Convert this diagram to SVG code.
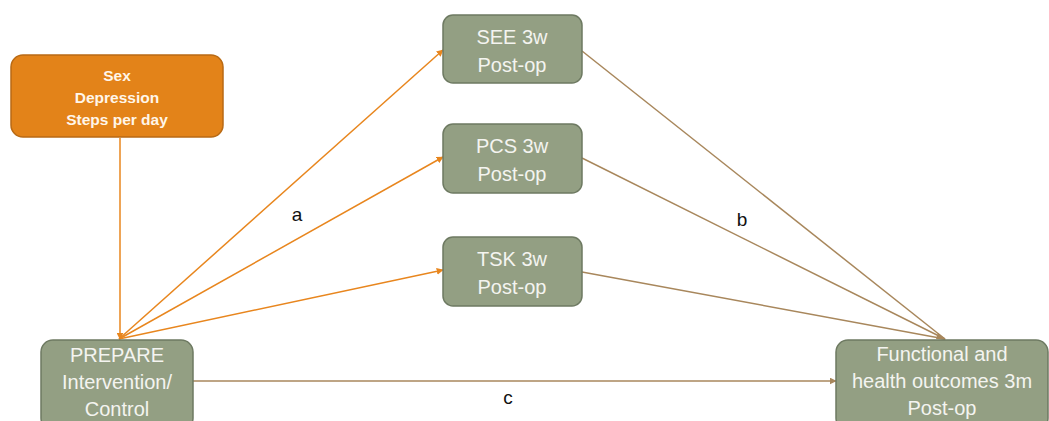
<svg xmlns="http://www.w3.org/2000/svg" width="1049" height="421" viewBox="0 0 1049 421">
<defs>
<style>
.g{fill:#939F83;stroke:#6E7A62;stroke-width:1.5}
.o{fill:#E38319;stroke:#B96A14;stroke-width:1.5}
.t{font-family:"Liberation Sans",Arial,sans-serif;font-size:20px;fill:#F4F4F0;text-anchor:middle}
.tb{font-family:"Liberation Sans",Arial,sans-serif;font-size:15.5px;font-weight:bold;fill:#FFF6EA;text-anchor:middle}
.lab{font-family:"Liberation Sans",Arial,sans-serif;font-size:19px;fill:#111;text-anchor:middle}
.ao{stroke:#E8861E;stroke-width:1.5;fill:none;marker-end:url(#mo)}
.ab{stroke:#A8875C;stroke-width:1.5;fill:none}
.abm{stroke:#A8875C;stroke-width:1.5;fill:none;marker-end:url(#mb)}
</style>
<marker id="mo" viewBox="0 0 10 10" refX="9" refY="5" markerWidth="7" markerHeight="7" markerUnits="userSpaceOnUse" orient="auto"><path d="M0,0L10,5L0,10z" fill="#E8861E"/></marker>
<marker id="mb" viewBox="0 0 10 10" refX="9" refY="5" markerWidth="7" markerHeight="7" markerUnits="userSpaceOnUse" orient="auto"><path d="M0,0L10,5L0,10z" fill="#A8875C"/></marker>
</defs>
<g id="connectors">
<line class="ao" x1="120" y1="138" x2="120" y2="339"/>
<line class="ao" x1="119" y1="339" x2="443" y2="50"/>
<line class="ao" x1="119" y1="339" x2="443" y2="157"/>
<line class="ao" x1="119" y1="339" x2="443" y2="270"/>
<line class="ab" x1="582" y1="51" x2="945" y2="339"/>
<line class="ab" x1="582" y1="158" x2="945" y2="339"/>
<line class="ab" x1="582" y1="272" x2="945" y2="339"/>
<path d="M938,333L946,340L936,339z" fill="#A8875C"/>
<line class="abm" x1="193" y1="381" x2="836" y2="381"/>
<text class="lab" x="297" y="221">a</text>
<text class="lab" x="742" y="226">b</text>
<text class="lab" x="508" y="404">c</text>
</g>
<g id="covariates">
<rect class="o" x="11" y="55" width="212" height="82" rx="12"/>
<text class="tb" x="117" y="81">Sex</text>
<text class="tb" x="117" y="103">Depression</text>
<text class="tb" x="117" y="125">Steps per day</text>
</g>
<g id="see">
<rect class="g" x="443" y="15" width="139" height="68" rx="10"/>
<text class="t" x="512" y="44">SEE 3w</text>
<text class="t" x="512" y="72">Post-op</text>
</g>
<g id="pcs">
<rect class="g" x="443" y="124" width="139" height="69" rx="10"/>
<text class="t" x="512" y="153">PCS 3w</text>
<text class="t" x="512" y="181">Post-op</text>
</g>
<g id="tsk">
<rect class="g" x="443" y="237" width="139" height="69" rx="10"/>
<text class="t" x="512" y="266">TSK 3w</text>
<text class="t" x="512" y="294">Post-op</text>
</g>
<g id="prepare">
<rect class="g" x="41" y="340" width="152" height="90" rx="12"/>
<text class="t" x="117" y="362">PREPARE</text>
<text class="t" x="117" y="389">Intervention/</text>
<text class="t" x="117" y="416">Control</text>
</g>
<g id="outcome">
<rect class="g" x="836" y="340" width="212" height="90" rx="12"/>
<text class="t" x="942" y="361">Functional and</text>
<text class="t" x="942" y="388">health outcomes 3m</text>
<text class="t" x="942" y="415">Post-op</text>
</g>
</svg>
